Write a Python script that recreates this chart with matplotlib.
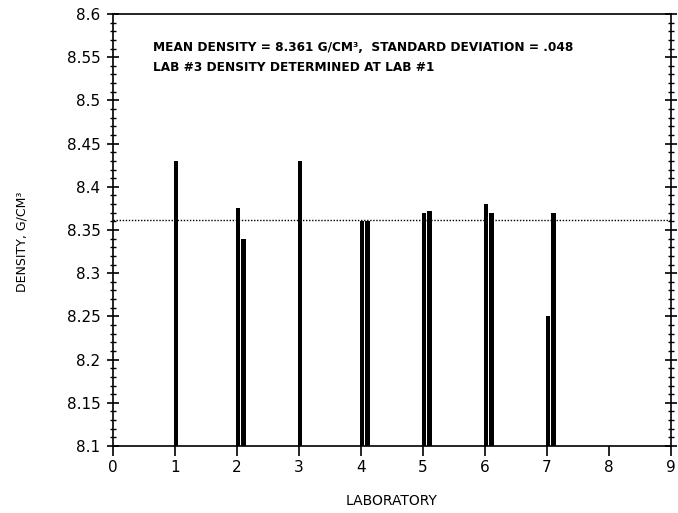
import matplotlib.pyplot as plt
import numpy as np
from matplotlib.ticker import MultipleLocator

# density per laboratory, two determinations (None = not reported)
labs = [1, 2, 3, 4, 5, 6, 7]
run_a = [8.430, 8.376, 8.430, 8.360, 8.370, 8.380, 8.250]
run_b = [None, 8.340, None, 8.360, 8.372, 8.370, 8.370]
mean_density = 8.361

fig = plt.figure(figsize=(6.78, 5.13), dpi=100)
ax = fig.add_axes([113 / 678, 1 - 446 / 513, (671 - 113) / 678, (446 - 14) / 513])

base = 8.1
xa = [l + 0.015 for l in labs]
ha = [v - base for v in run_a]
ax.bar(xa, ha, width=0.065, bottom=base, color='black', linewidth=0)
xb = [l + 0.105 for l, v in zip(labs, run_b) if v is not None]
hb = [v - base for v in run_b if v is not None]
ax.bar(xb, hb, width=0.065, bottom=base, color='black', linewidth=0)

ax.axhline(mean_density, color='black', linestyle=(0, (1, 1.2)), linewidth=1.0)

ax.set_xlim(0, 9)
ax.set_ylim(8.1, 8.6)
ax.set_xticks(range(10))
ax.set_yticks(np.arange(8.1, 8.601, 0.05))
ax.set_yticklabels(['8.1', '8.15', '8.2', '8.25', '8.3', '8.35', '8.4',
                    '8.45', '8.5', '8.55', '8.6'])
ax.yaxis.set_minor_locator(MultipleLocator(0.01))

ax.tick_params(axis='y', which='major', direction='inout', length=8, width=1.2,
               left=True, right=True, labelsize=11, pad=5)
ax.tick_params(axis='y', which='minor', direction='inout', length=4.5, width=1.0,
               left=True, right=True)
ax.tick_params(axis='x', which='major', direction='out', length=7, width=1.2,
               labelsize=11, pad=3)
for s in ax.spines.values():
    s.set_linewidth(1.2)

ax.text(0.071, 0.922, 'MEAN DENSITY = 8.361 G/CM³,  STANDARD DEVIATION = .048',
        transform=ax.transAxes, fontsize=8.7, fontweight='bold', va='center')
ax.text(0.071, 0.877, 'LAB #3 DENSITY DETERMINED AT LAB #1',
        transform=ax.transAxes, fontsize=8.7, fontweight='bold', va='center')

ax.set_xlabel('LABORATORY', fontsize=10, labelpad=14)
ax.set_ylabel('DENSITY, G/CM³', fontsize=9)
ax.yaxis.set_label_coords(-0.152, 0.472)

fig.savefig('out.png', dpi=100)
